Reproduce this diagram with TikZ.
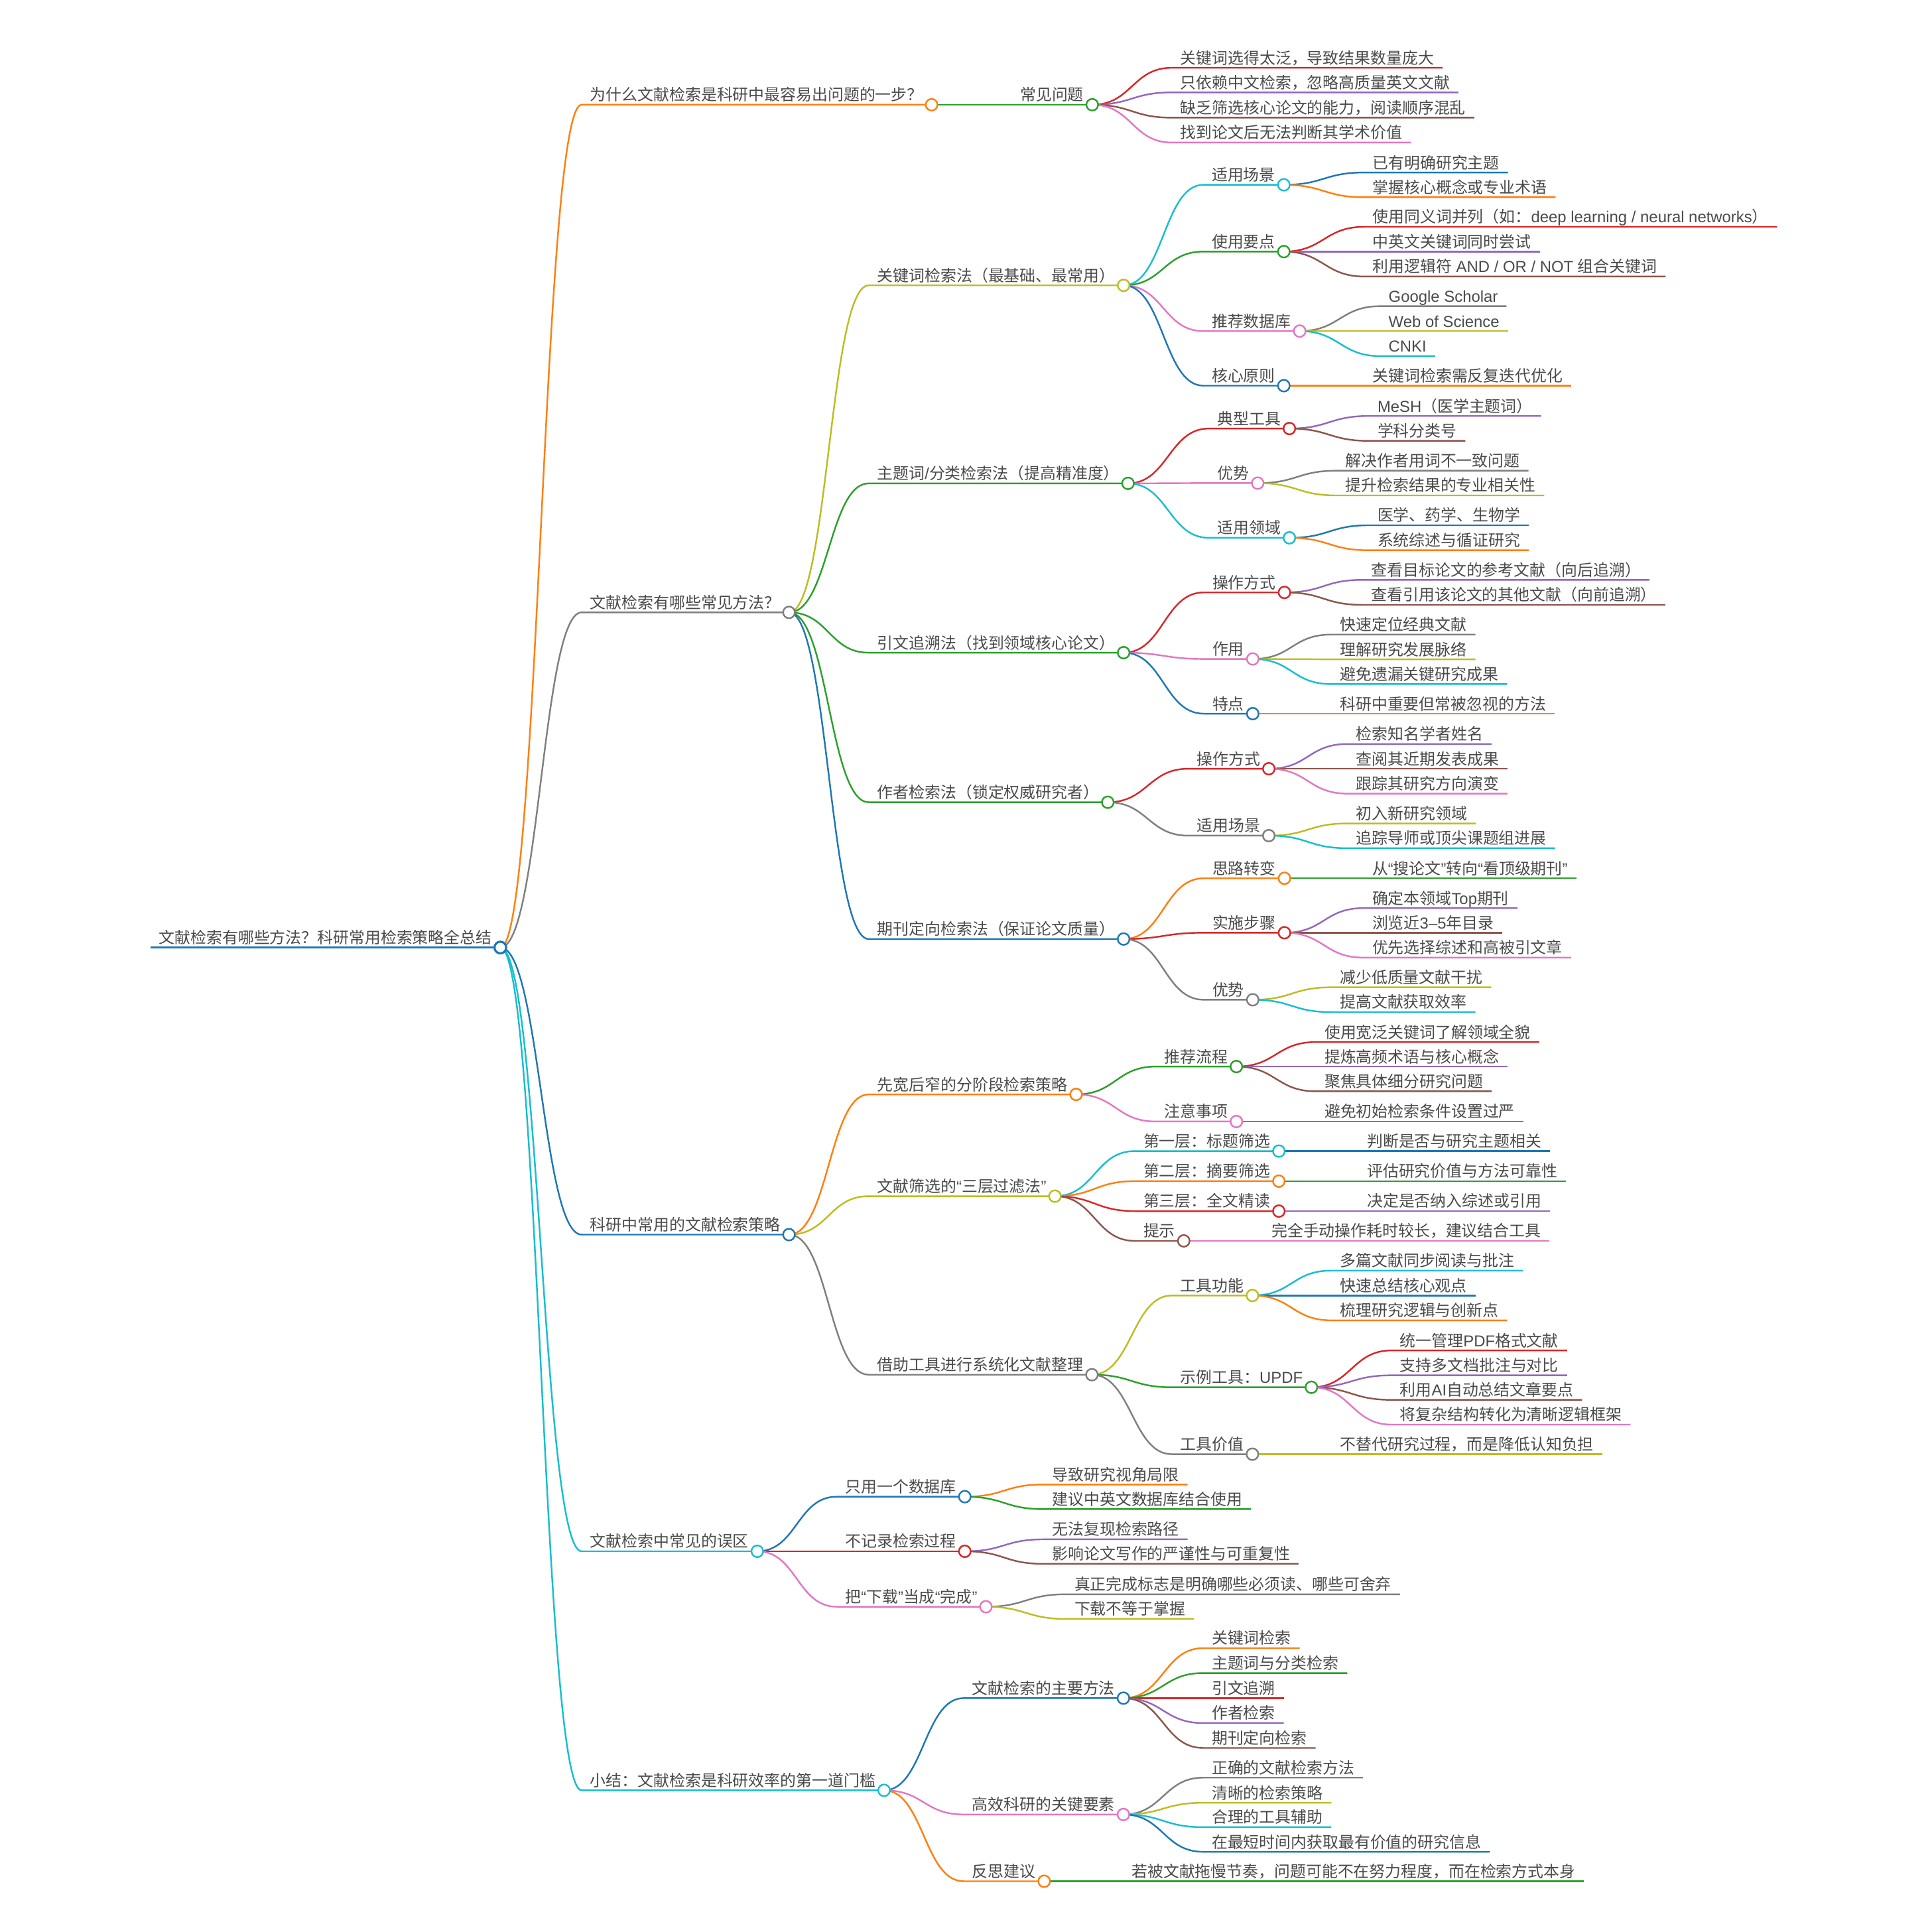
\documentclass[tikz,border=0pt]{standalone}
\usepackage{fontspec}
\setmainfont{Noto Sans CJK SC}
\newfontfamily\enfont{Liberation Sans}
\newcommand{\en}[1]{{\enfont #1}}
\definecolor{mblue}{HTML}{1F77B4}
\definecolor{morange}{HTML}{FF7F0E}
\definecolor{mgreen}{HTML}{2CA02C}
\definecolor{mred}{HTML}{D62728}
\definecolor{mpurple}{HTML}{9467BD}
\definecolor{mbrown}{HTML}{8C564B}
\definecolor{mpink}{HTML}{E377C2}
\definecolor{mgray}{HTML}{7F7F7F}
\definecolor{molive}{HTML}{BCBD22}
\definecolor{mcyan}{HTML}{17BECF}
\definecolor{ink}{HTML}{4A4A4A}

\begin{document}
\begin{tikzpicture}[
    x=0.02cm, y=-0.02cm,
    mm/.style={anchor=south west, inner xsep=0.14cm, inner ysep=0.065cm, text depth=0pt, outer sep=0pt, text=ink, font={\fontsize{7.32}{9}\selectfont}},
    link/.style={line width=0.75pt, line join=round},
    dot/.style={fill=white, line width=0.75pt}
]
\useasboundingbox (0,0) rectangle (1568,1568);

% root and first level
\node[mm] (root) at (122,769) {文献检索有哪些方法？科研常用检索策略全总结};
\node[mm] (why) at (472,85) {为什么文献检索是科研中最容易出问题的一步？};
\node[mm] (how) at (472,497) {文献检索有哪些常见方法？};
\node[mm] (strat) at (472,1002) {科研中常用的文献检索策略};
\node[mm] (trap) at (472,1259) {文献检索中常见的误区};
\node[mm] (sum) at (472,1453) {小结：文献检索是科研效率的第一道门槛};

% why
\node[mm] (prob) at (821,85) {常见问题};
\node[mm] (prob1) at (951,55) {关键词选得太泛，导致结果数量庞大};
\node[mm] (prob2) at (951,75) {只依赖中文检索，忽略高质量英文文献};
\node[mm] (prob3) at (951,95.5) {缺乏筛选核心论文的能力，阅读顺序混乱};
\node[mm] (prob4) at (951,115.7) {找到论文后无法判断其学术价值};

% how
\node[mm] (kw) at (705,231.6) {关键词检索法（最基础、最常用）};
\node[mm] (subj) at (705,392.3) {主题词\en{/}分类检索法（提高精准度）};
\node[mm] (cite) at (705,529.7) {引文追溯法（找到领域核心论文）};
\node[mm] (auth) at (705,651.1) {作者检索法（锁定权威研究者）};
\node[mm] (jour) at (705,762.1) {期刊定向检索法（保证论文质量）};

\node[mm] (kwuse) at (976.5,150) {适用场景};
\node[mm] (kwtip) at (976.5,204.2) {使用要点};
\node[mm] (kwdb) at (976.5,268.7) {推荐数据库};
\node[mm] (kwrule) at (976.5,313) {核心原则};
\node[mm] (kwuse1) at (1107,140) {已有明确研究主题};
\node[mm] (kwuse2) at (1107,160.1) {掌握核心概念或专业术语};
\node[mm] (kwtip1) at (1107,184.1) {使用同义词并列（如：\en{deep learning / neural networks}）};
\node[mm] (kwtip2) at (1107,204.2) {中英文关键词同时尝试};
\node[mm] (kwtip3) at (1107,224.4) {利用逻辑符\en{ AND / OR / NOT }组合关键词};
\node[mm] (kwdb1) at (1120,248.5) {\en{Google Scholar}};
\node[mm] (kwdb2) at (1120,268.7) {\en{Web of Science}};
\node[mm] (kwdb3) at (1120,289) {\en{CNKI}};
\node[mm] (kwrule1) at (1107,313) {关键词检索需反复迭代优化};

\node[mm] (subjtool) at (981,347.8) {典型工具};
\node[mm] (subjgain) at (981,392.1) {优势};
\node[mm] (subjfield) at (981,436.5) {适用领域};
\node[mm] (subjtool1) at (1111,337.6) {\en{MeSH}（医学主题词）};
\node[mm] (subjtool2) at (1111,357.8) {学科分类号};
\node[mm] (subjgain1) at (1085,382) {解决作者用词不一致问题};
\node[mm] (subjgain2) at (1085,402.1) {提升检索结果的专业相关性};
\node[mm] (subjfield1) at (1111,426.3) {医学、药学、生物学};
\node[mm] (subjfield2) at (1111,446.6) {系统综述与循证研究};

\node[mm] (citeop) at (977,480.8) {操作方式};
\node[mm] (citerole) at (977,534.8) {作用};
\node[mm] (citenote) at (977,579.2) {特点};
\node[mm] (citeop1) at (1106,470.6) {查看目标论文的参考文献（向后追溯）};
\node[mm] (citeop2) at (1106,490.9) {查看引用该论文的其他文献（向前追溯）};
\node[mm] (citerole1) at (1080.5,515) {快速定位经典文献};
\node[mm] (citerole2) at (1080.5,535.1) {理解研究发展脉络};
\node[mm] (citerole3) at (1080.5,555.2) {避免遗漏关键研究成果};
\node[mm] (citenote1) at (1080.5,579.2) {科研中重要但常被忽视的方法};

\node[mm] (authop) at (964.3,623.9) {操作方式};
\node[mm] (authuse) at (964.3,678.2) {适用场景};
\node[mm] (authop1) at (1093.7,603.8) {检索知名学者姓名};
\node[mm] (authop2) at (1093.7,623.9) {查阅其近期发表成果};
\node[mm] (authop3) at (1093.7,644.1) {跟踪其研究方向演变};
\node[mm] (authuse1) at (1093.7,668.3) {初入新研究领域};
\node[mm] (authuse2) at (1093.7,688.4) {追踪导师或顶尖课题组进展};

\node[mm] (jourshift) at (977,712.8) {思路转变};
\node[mm] (jourstep) at (977,757) {实施步骤};
\node[mm] (jourgain) at (977,811.4) {优势};
\node[mm] (jourshift1) at (1106.7,712.8) {从\en{“}搜论文\en{”}转向\en{“}看顶级期刊\en{”}};
\node[mm] (jourstep1) at (1106.7,737) {确定本领域\en{Top}期刊};
\node[mm] (jourstep2) at (1106.7,757) {浏览近\en{3–5}年目录};
\node[mm] (jourstep3) at (1106.7,777.2) {优先选择综述和高被引文章};
\node[mm] (jourgain1) at (1080.5,801.3) {减少低质量文献干扰};
\node[mm] (jourgain2) at (1080.5,821.4) {提高文献获取效率};

% strategies
\node[mm] (wide) at (705,888.2) {先宽后窄的分阶段检索策略};
\node[mm] (filter) at (705,970.8) {文献筛选的\en{“}三层过滤法\en{”}};
\node[mm] (tool) at (705,1115.7) {借助工具进行系统化文献整理};

\node[mm] (wideflow) at (938,865.6) {推荐流程};
\node[mm] (widenote) at (938,910.2) {注意事项};
\node[mm] (wideflow1) at (1068,845.7) {使用宽泛关键词了解领域全貌};
\node[mm] (wideflow2) at (1068,865.6) {提炼高频术语与核心概念};
\node[mm] (wideflow3) at (1068,885.7) {聚焦具体细分研究问题};
\node[mm] (widenote1) at (1068,910.2) {避免初始检索条件设置过严};

\node[mm] (lay1) at (921,934.2) {第一层：标题筛选};
\node[mm] (lay2) at (921,958.6) {第二层：摘要筛选};
\node[mm] (lay3) at (921,982.9) {第三层：全文精读};
\node[mm] (layhint) at (921,1007.1) {提示};
\node[mm] (lay1a) at (1102.5,934.2) {判断是否与研究主题相关};
\node[mm] (lay2a) at (1102.5,958.6) {评估研究价值与方法可靠性};
\node[mm] (lay3a) at (1102.5,982.9) {决定是否纳入综述或引用};
\node[mm] (layhinta) at (1025,1007.1) {完全手动操作耗时较长，建议结合工具};

\node[mm] (toolfun) at (951,1051.4) {工具功能};
\node[mm] (toolupdf) at (951,1125.9) {示例工具：\en{UPDF}};
\node[mm] (toolval) at (951,1180.2) {工具价值};
\node[mm] (toolfun1) at (1080.6,1031.2) {多篇文献同步阅读与批注};
\node[mm] (toolfun2) at (1080.6,1051.4) {快速总结核心观点};
\node[mm] (toolfun3) at (1080.6,1071.6) {梳理研究逻辑与创新点};
\node[mm] (toolupdf1) at (1129.2,1096) {统一管理\en{PDF}格式文献};
\node[mm] (toolupdf2) at (1129.2,1116.2) {支持多文档批注与对比};
\node[mm] (toolupdf3) at (1129.2,1136.1) {利用\en{AI}自动总结文章要点};
\node[mm] (toolupdf4) at (1129.2,1156.2) {将复杂结构转化为清晰逻辑框架};
\node[mm] (toolval1) at (1080.6,1180.2) {不替代研究过程，而是降低认知负担};

% pitfalls
\node[mm] (onedb) at (679,1214.7) {只用一个数据库};
\node[mm] (norec) at (679,1259) {不记录检索过程};
\node[mm] (dl) at (679,1304) {把\en{“}下载\en{”}当成\en{“}完成\en{”}};
\node[mm] (onedb1) at (847,1204.8) {导致研究视角局限};
\node[mm] (onedb2) at (847,1224.8) {建议中英文数据库结合使用};
\node[mm] (norec1) at (847,1249.3) {无法复现检索路径};
\node[mm] (norec2) at (847,1269.2) {影响论文写作的严谨性与可重复性};
\node[mm] (dl1) at (865,1293.9) {真正完成标志是明确哪些必须读、哪些可舍弃};
\node[mm] (dl2) at (865,1313.9) {下载不等于掌握};

% summary
\node[mm] (sumway) at (782,1378.2) {文献检索的主要方法};
\node[mm] (sumkey) at (782,1472.6) {高效科研的关键要素};
\node[mm] (sumtip) at (782,1526.8) {反思建议};
\node[mm] (sumway1) at (976.5,1337.6) {关键词检索};
\node[mm] (sumway2) at (976.5,1357.8) {主题词与分类检索};
\node[mm] (sumway3) at (976.5,1378.2) {引文追溯};
\node[mm] (sumway4) at (976.5,1398.4) {作者检索};
\node[mm] (sumway5) at (976.5,1418.6) {期刊定向检索};
\node[mm] (sumkey1) at (976.5,1442.7) {正确的文献检索方法};
\node[mm] (sumkey2) at (976.5,1463.1) {清晰的检索策略};
\node[mm] (sumkey3) at (976.5,1482.9) {合理的工具辅助};
\node[mm] (sumkey4) at (976.5,1502.9) {在最短时间内获取最有价值的研究信息};
\node[mm] (sumtip1) at (911.5,1526.8) {若被文献拖慢节奏，问题可能不在努力程度，而在检索方式本身};

% links (curve + underline of the child)
\draw[link, draw=mblue, line width=1pt] (root.south west) -- (root.south east);
\foreach \pa/\ch/\col in {
    root/why/morange, root/how/mgray, root/strat/mblue, root/trap/mcyan, root/sum/mcyan,
    why/prob/mgreen,
    prob/prob1/mred, prob/prob2/mpurple, prob/prob3/mbrown, prob/prob4/mpink,
    how/kw/molive, how/subj/mgreen, how/cite/mgreen, how/auth/mgreen, how/jour/mblue,
    kw/kwuse/mcyan, kw/kwtip/mgreen, kw/kwdb/mpink, kw/kwrule/mblue,
    kwuse/kwuse1/mblue, kwuse/kwuse2/morange,
    kwtip/kwtip1/mred, kwtip/kwtip2/mpurple, kwtip/kwtip3/mbrown,
    kwdb/kwdb1/mgray, kwdb/kwdb2/molive, kwdb/kwdb3/mcyan,
    kwrule/kwrule1/morange,
    subj/subjtool/mred, subj/subjgain/mpink, subj/subjfield/mcyan,
    subjtool/subjtool1/mpurple, subjtool/subjtool2/mbrown,
    subjgain/subjgain1/mgray, subjgain/subjgain2/molive,
    subjfield/subjfield1/mblue, subjfield/subjfield2/morange,
    cite/citeop/mred, cite/citerole/mpink, cite/citenote/mblue,
    citeop/citeop1/mpurple, citeop/citeop2/mbrown,
    citerole/citerole1/mgray, citerole/citerole2/molive, citerole/citerole3/mcyan,
    citenote/citenote1/morange,
    auth/authop/mred, auth/authuse/mgray,
    authop/authop1/mpurple, authop/authop2/mbrown, authop/authop3/mpink,
    authuse/authuse1/molive, authuse/authuse2/mcyan,
    jour/jourshift/morange, jour/jourstep/mred, jour/jourgain/mgray,
    jourshift/jourshift1/mgreen,
    jourstep/jourstep1/mpurple, jourstep/jourstep2/mbrown, jourstep/jourstep3/mpink,
    jourgain/jourgain1/molive, jourgain/jourgain2/mcyan,
    strat/wide/morange, strat/filter/molive, strat/tool/mgray,
    wide/wideflow/mgreen, wide/widenote/mpink,
    wideflow/wideflow1/mred, wideflow/wideflow2/mpurple, wideflow/wideflow3/mbrown,
    widenote/widenote1/mgray,
    filter/lay1/mcyan, filter/lay2/morange, filter/lay3/mred, filter/layhint/mbrown,
    lay1/lay1a/mblue, lay2/lay2a/mgreen, lay3/lay3a/mpurple, layhint/layhinta/mpink,
    tool/toolfun/molive, tool/toolupdf/mgreen, tool/toolval/mgray,
    toolfun/toolfun1/mcyan, toolfun/toolfun2/mblue, toolfun/toolfun3/morange,
    toolupdf/toolupdf1/mred, toolupdf/toolupdf2/mpurple, toolupdf/toolupdf3/mbrown, toolupdf/toolupdf4/mpink,
    toolval/toolval1/molive,
    trap/onedb/mblue, trap/norec/mred, trap/dl/mpink,
    onedb/onedb1/morange, onedb/onedb2/mgreen,
    norec/norec1/mpurple, norec/norec2/mbrown,
    dl/dl1/mgray, dl/dl2/molive,
    sum/sumway/mblue, sum/sumkey/mpink, sum/sumtip/morange,
    sumway/sumway1/morange, sumway/sumway2/mgreen, sumway/sumway3/mred, sumway/sumway4/mpurple, sumway/sumway5/mbrown,
    sumkey/sumkey1/mgray, sumkey/sumkey2/molive, sumkey/sumkey3/mcyan, sumkey/sumkey4/mblue,
    sumtip/sumtip1/mgreen}
  \draw[link, draw=\col] (\pa.south east) .. controls +(32,0) and +(-32,0) .. (\ch.south west) -- (\ch.south east);

% fold circles
\draw[dot, draw=mblue, line width=1pt] (root.south east) circle[radius=0.095cm];
\foreach \n/\col in {
    why/morange, how/mgray, strat/mblue, trap/mcyan, sum/mcyan, prob/mgreen,
    kw/molive, subj/mgreen, cite/mgreen, auth/mgreen, jour/mblue,
    kwuse/mcyan, kwtip/mgreen, kwdb/mpink, kwrule/mblue,
    subjtool/mred, subjgain/mpink, subjfield/mcyan,
    citeop/mred, citerole/mpink, citenote/mblue,
    authop/mred, authuse/mgray,
    jourshift/morange, jourstep/mred, jourgain/mgray,
    wide/morange, filter/molive, tool/mgray,
    wideflow/mgreen, widenote/mpink,
    lay1/mcyan, lay2/morange, lay3/mred, layhint/mbrown,
    toolfun/molive, toolupdf/mgreen, toolval/mgray,
    onedb/mblue, norec/mred, dl/mpink,
    sumway/mblue, sumkey/mpink, sumtip/morange}
  \draw[dot, draw=\col] (\n.south east) circle[radius=0.095cm];
\end{tikzpicture}
\end{document}
